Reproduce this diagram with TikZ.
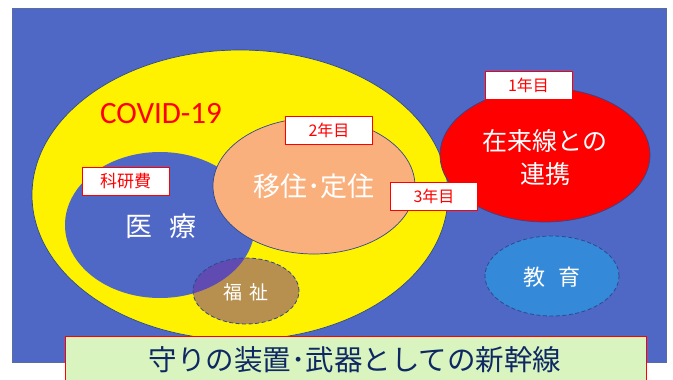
\documentclass[tikz,border=0pt]{standalone}
\usepackage{fontspec}
\newfontfamily\jpfont{Noto Sans CJK JP}
\newfontfamily\calfont{Carlito}
\usetikzlibrary{shapes.geometric}
\definecolor{bgblue}{RGB}{79,104,198}
\definecolor{edgeblue}{RGB}{47,72,140}
\definecolor{peach}{RGB}{250,176,124}
\definecolor{edublue}{RGB}{52,138,216}
\definecolor{welfare}{RGB}{112,48,160}
\definecolor{lightgreen}{RGB}{218,244,192}
\definecolor{navy}{RGB}{14,40,100}
\begin{document}
\begin{tikzpicture}[x=1pt,y=-1pt,
  ell/.style={ellipse, inner sep=0pt},
  rim/.style={draw=edgeblue, line width=0.7pt},
  dashrim/.style={draw=edgeblue, line width=0.8pt, dash pattern=on 4pt off 2.5pt},
  lbl/.style={draw=red, line width=0.8pt, fill=white, text=red, inner sep=0pt,
    minimum width=87pt, minimum height=28pt, font=\jpfont\fontsize{16}{16}\selectfont},
  wtxt/.style={text=white, inner sep=0pt, align=center}]
\useasboundingbox (0,0) rectangle (673,380);
\fill[white] (0,0) rectangle (673,380);
\clip (0,0) rectangle (673,380);
% background panel
\node[draw=edgeblue!80, line width=0.6pt, fill=bgblue, inner sep=0pt, minimum width=654pt, minimum height=354pt] (panel) at (339,185) {};
% ellipses
\node[ell, rim, fill=yellow, minimum width=416pt, minimum height=290pt] (covid) at (240,195) {};
\node[ell, fill=bgblue, minimum width=190pt, minimum height=146pt] (med) at (160,225) {};
\node[ell, rim, fill=peach, minimum width=202pt, minimum height=136pt] (mig) at (314,186) {};
\node[ell, rim, fill=red, minimum width=210pt, minimum height=134pt] (rail) at (545,155) {};
\node[ell, dashrim, fill=edublue, minimum width=134pt, minimum height=80pt] (edu) at (552,276) {};
\node[ell, dashrim, fill=welfare, fill opacity=0.5, minimum width=106pt, minimum height=66pt] (wel) at (246,291) {};
% texts
\node[text=red, inner sep=0pt, font=\calfont\fontsize{31}{31}\selectfont] (covidt) at (161,114) {COVID-19};
\node[wtxt, font=\jpfont\fontsize{27}{27}\selectfont] (medt) at (161,226) {医\hspace{0.6em}療};
\node[wtxt, font=\jpfont\fontsize{27}{27}\selectfont] (migt) at (314,186) {移住･定住};
\node[wtxt, font=\jpfont\fontsize{25}{33}\selectfont] (railt) at (545,158) {在来線との\\連携};
\node[wtxt, font=\jpfont\fontsize{22}{22}\selectfont] (edut) at (552,277) {教\hspace{0.6em}育};
\node[wtxt, font=\jpfont\fontsize{19}{19}\selectfont] (welt) at (246,292) {福\hspace{0.4em}祉};
% year labels
\node[lbl, font=\jpfont\fontsize{17}{17}\selectfont] (kaken) at (125.5,181) {科研費};
\node[lbl] (y2) at (329,130.5) {2年目};
\node[lbl] (y1) at (528.5,85) {1年目};
\node[lbl] (y3) at (434,196) {3年目};
% bottom banner
\node[draw=red, line width=0.8pt, fill=lightgreen, inner sep=0pt, minimum width=581pt, minimum height=54pt] (banner) at (355.5,363) {};
\node[text=navy, inner sep=0pt, font=\jpfont\fontsize{28.5}{28.5}\selectfont] (bannert) at (355,360) {守りの装置･武器としての新幹線};
\end{tikzpicture}
\end{document}
